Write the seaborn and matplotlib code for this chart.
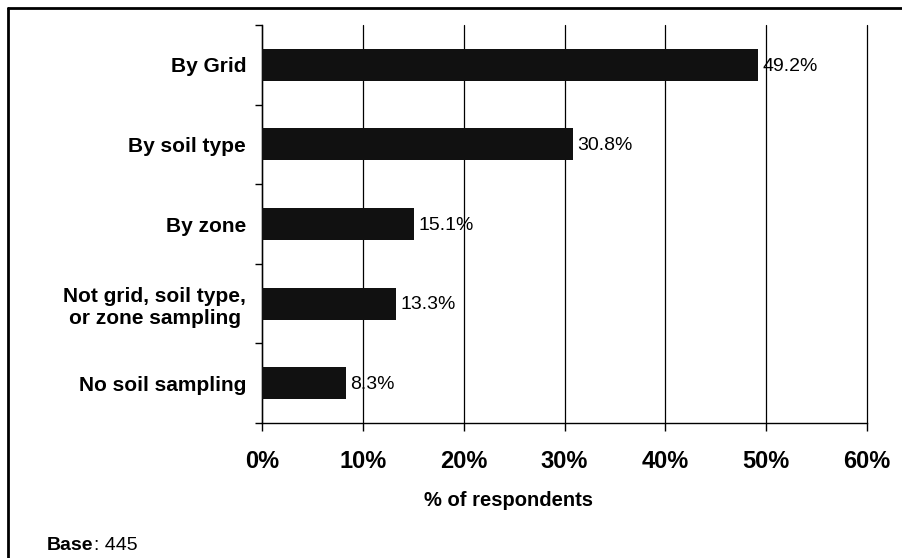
import matplotlib
matplotlib.use('Agg')
import matplotlib.pyplot as plt
import seaborn as sns
import pandas as pd
from matplotlib.lines import Line2D

# data
methods = ['By Grid', 'By soil type', 'By zone',
           'Not grid, soil type,\nor zone sampling', 'No soil sampling']
shares = [49.2, 30.8, 15.1, 13.3, 8.3]
x_ticks = [0, 10, 20, 30, 40, 50, 60]

df = pd.DataFrame({'method': methods, 'share': shares})

sns.set_style('white')
plt.rcParams['font.family'] = ['Liberation Sans', 'DejaVu Sans']
plt.rcParams['text.color'] = 'black'
plt.rcParams['xtick.color'] = 'black'
plt.rcParams['ytick.color'] = 'black'

fig = plt.figure(figsize=(9.02, 5.58), dpi=100)
ax = fig.add_axes([262/902, 1 - 423/558, (867 - 262)/902, (423 - 25)/558])

sns.barplot(data=df, x='share', y='method', orient='h', color='#111111',
            width=0.4, saturation=1, linewidth=0, ax=ax, zorder=3)

ax.set_xlim(0, 60)
ax.set_ylim(4.5, -0.5)
ax.set_xticks(x_ticks)
ax.set_xticklabels([f'{t}%' for t in x_ticks], fontsize=17, fontweight='bold')
ax.set_yticks(range(len(methods)))
ax.set_yticklabels(methods, fontsize=15, fontweight='bold', linespacing=1.25,
                   multialignment='center')
ax.set_yticks([i - 0.5 for i in range(len(methods) + 1)], minor=True)
ax.tick_params(axis='y', which='major', length=0, pad=11.5)
ax.tick_params(axis='y', which='minor', length=5, width=1, color='black', direction='out', left=True)
ax.tick_params(axis='x', length=5.5, width=1, color='black', direction='out', bottom=True, pad=14)
ax.set_xlabel('')
ax.set_ylabel('')

ax.grid(axis='x', color='black', linewidth=0.9)
ax.grid(axis='y', visible=False)
for gl in ax.get_xgridlines():
    gl.set_clip_on(False)
ax.set_axisbelow(True)
for side in ['top', 'right']:
    ax.spines[side].set_visible(False)
for side in ['left', 'bottom']:
    ax.spines[side].set_color('black')
    ax.spines[side].set_linewidth(1)

for i, v in enumerate(shares):
    ax.annotate(f'{v}%', xy=(v, i), xytext=(3, -1), textcoords='offset points',
                va='center', ha='left', fontsize=14, zorder=4)

fig.text(508/902, 1 - 500/558, '% of respondents', ha='center', va='center',
         fontsize=14.5, fontweight='bold')
t = fig.text(47/902, 1 - 546/558, 'Base', ha='left', va='center', fontsize=14, fontweight='bold')
fig.canvas.draw()
bb = t.get_window_extent()
fig.text(bb.x1/902, 1 - 546/558, ': 445', ha='left', va='center', fontsize=14)

# outer frame (only left and top edges visible in the crop)
fig.add_artist(Line2D([8/902, 8/902], [0, 1 - 8/558], transform=fig.transFigure, color='black', lw=2))
fig.add_artist(Line2D([8/902, 1], [1 - 8/558, 1 - 8/558], transform=fig.transFigure, color='black', lw=2))

fig.savefig('out.png', dpi=100)
